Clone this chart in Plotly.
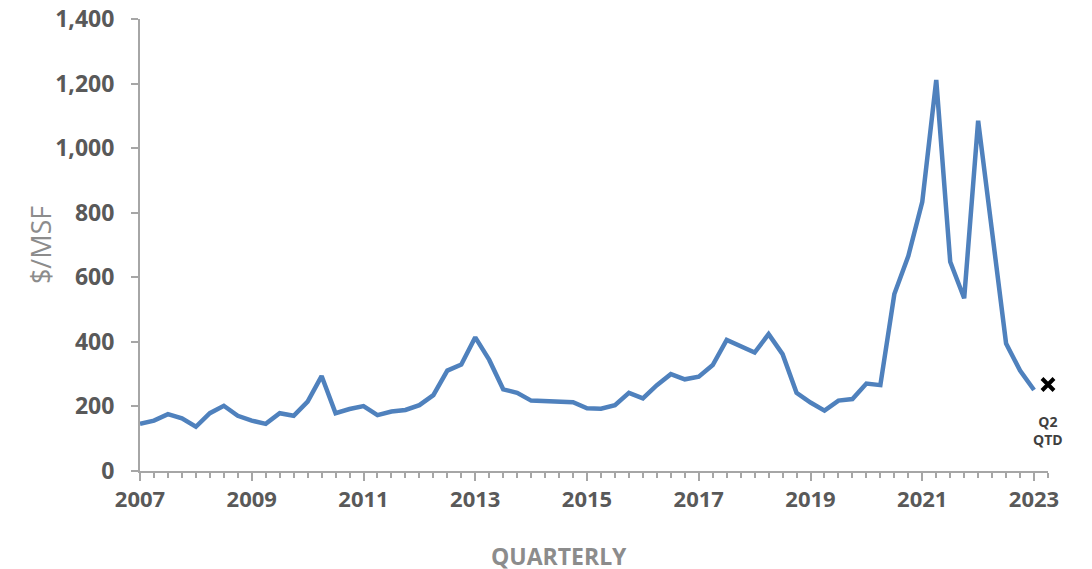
import plotly.graph_objects as go

# quarterly $/MSF, 2007 Q1 .. 2023 Q1
start_year = 2007
values = [146, 156, 176, 163, 137, 179, 202, 171, 156, 146, 179, 171, 215, 294, 179, 192,
          201, 173, 184, 189, 204, 235, 311, 330, 414, 344, 253, 242, 218, 217, 216, 213,
          194, 193, 204, 242, 225, 266, 300, 284, 292, 328, 406, 385, 367, 424, 362, 242,
          212, 187, 218, 223, 271, 266, 548, 666, 834, 1211, 648, 535, 1085, 740, 395, 311,
          251]
qtd_label = 'Q2<br>QTD'
qtd_value = 268
y_ticks = [0, 200, 400, 600, 800, 1000, 1200, 1400]
x_ticks = [2007, 2009, 2011, 2013, 2015, 2017, 2019, 2021, 2023]

x = [start_year + i / 4 for i in range(len(values))]
x_qtd = start_year + len(values) / 4

grey = '#A6A6A6'
label_col = '#595959'
title_col = '#8C8C8C'

fig = go.Figure()
fig.add_trace(go.Scatter(
    x=x, y=values, mode='lines',
    line=dict(color='#4F81BD', width=4.5),
    showlegend=False, hoverinfo='y'
))
fig.add_trace(go.Scatter(
    x=[x_qtd], y=[qtd_value], mode='markers', cliponaxis=False,
    marker=dict(symbol='x-thin', size=12, line=dict(color='black', width=4)),
    showlegend=False
))
fig.add_annotation(x=x_qtd, y=qtd_value, text='<b>' + qtd_label + '</b>', showarrow=False,
                   yshift=-46, font=dict(size=14, color='#404040', family='Open Sans'),
                   xanchor='center', yanchor='middle')

# axis titles placed by hand
fig.add_annotation(xref='paper', yref='paper', x=-0.110, y=0.5, text='$/MSF',
                   textangle=-90, showarrow=False, xanchor='center', yanchor='middle',
                   font=dict(size=27, color=title_col, family='Open Sans'))
fig.add_annotation(xref='paper', yref='paper', x=0.4615, y=-0.187, text='<b>QUARTERLY</b>',
                   showarrow=False, xanchor='center', yanchor='middle',
                   font=dict(size=23, color=title_col, family='Open Sans'))

# page body adds 8px, so margins are shifted up/left by that much
fig.update_layout(
    width=1092, height=569,
    margin=dict(l=132, r=52, t=11, b=106),
    plot_bgcolor='white', paper_bgcolor='white',
    font=dict(family='Open Sans', color=label_col),
    xaxis=dict(
        range=[2007, x_qtd], tickvals=x_ticks, ticktext=[str(t) for t in x_ticks],
        showgrid=False, zeroline=False, automargin=False,
        showline=True, linecolor=grey, linewidth=2,
        ticks='outside', ticklen=8, tickwidth=2, tickcolor=grey,
        minor=dict(dtick=0.25, tick0=2007, ticks='outside', ticklen=5, tickwidth=1.5, tickcolor=grey),
        tickfont=dict(size=22, color=label_col, family='Open Sans', weight='bold'),
    ),
    yaxis=dict(
        range=[0, 1400], tickvals=y_ticks, tickformat=',',
        showgrid=False, zeroline=False, automargin=False,
        showline=True, linecolor=grey, linewidth=2,
        ticks='outside', ticklen=7, tickwidth=2, tickcolor=grey,
        ticklabelstandoff=12, ticklabeloverflow='allow',
        tickfont=dict(size=23, color=label_col, family='Open Sans', weight='bold'),
    ),
)

fig.write_html('out.html')
